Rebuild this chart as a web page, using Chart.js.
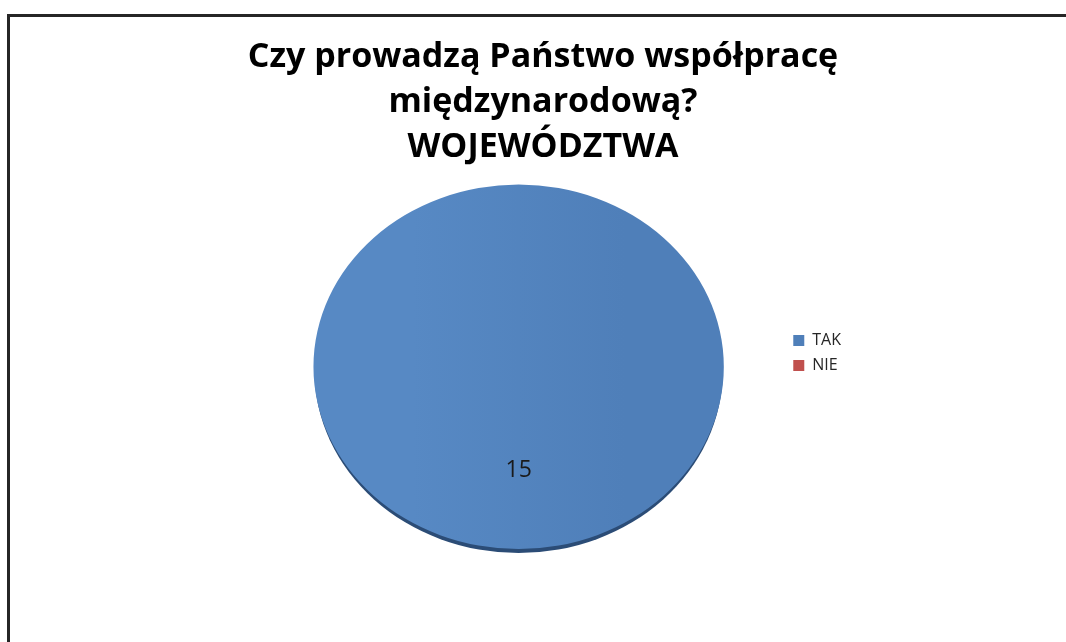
<!DOCTYPE html>
<html>
<head>
<meta charset="utf-8">
<script src="https://cdn.jsdelivr.net/npm/chart.js@4.4.1/dist/chart.umd.min.js"></script>
<style>
  html, body { margin: 0; padding: 0; background: #fff; overflow: hidden; }
  #wrap { position: relative; width: 1066px; height: 642px; }
  #frame { position: absolute; left: 7px; top: 14px; width: 1100px; height: 700px; border: 3px solid #262626; box-sizing: border-box; }
  canvas { position: absolute; left: 0; top: 0; }
</style>
</head>
<body>
<div id="wrap">
  <div id="frame"></div>
  <canvas id="chartPie" width="1066" height="642"></canvas>
</div>
<script>
  // ---- data ----
  const titleLines = ["Czy prowadzą Państwo współpracę", "międzynarodową?", "WOJEWÓDZTWA"];
  const categories = ["TAK", "NIE"];
  const values = [15, 0];
  const colors = ["#4f81bd", "#c0504d"];

  const FONT = "'Open Sans', 'DejaVu Sans', sans-serif";
  const SQUASH = 0.888;   // pie drawn as a slightly flattened ellipse

  // flatten the pie + dark bottom rim + value labels
  const pieLook = {
    id: "pieLook",
    afterLayout(chart) {
      // legend sits a little above the pie centre in the original
      chart.legend.top += 67;
      chart.legend.bottom += 67;
      // title is centred a bit left of the padded box
      chart.titleBlock.left -= 9;
      chart.titleBlock.right -= 9;
    },
    beforeDatasetsDraw(chart) {
      const ctx = chart.ctx;
      const arc = chart.getDatasetMeta(0).data[0];
      const cx = arc.x, cy = arc.y, r = arc.outerRadius;
      ctx.save();
      ctx.fillStyle = "#2b4c76";
      ctx.beginPath();
      ctx.ellipse(cx, cy + 4, r - 1, r * SQUASH, 0, 0, Math.PI * 2);
      ctx.fill();
      ctx.translate(0, cy);
      ctx.scale(1, SQUASH);
      ctx.translate(0, -cy);
    },
    afterDatasetsDraw(chart) {
      const ctx = chart.ctx;
      ctx.restore();
      const meta = chart.getDatasetMeta(0);
      ctx.save();
      ctx.font = "23px " + FONT;
      ctx.fillStyle = "#1a1a1a";
      ctx.textAlign = "center";
      ctx.textBaseline = "middle";
      meta.data.forEach((a, i) => {
        if (!values[i]) return;
        const mid = (a.startAngle + a.endAngle) / 2;
        const d = a.outerRadius * 0.57;
        ctx.fillText(String(values[i]), a.x + Math.cos(mid) * d, a.y + Math.sin(mid) * d * SQUASH);
      });
      ctx.restore();
    },
  };

  new Chart(document.getElementById("chartPie"), {
    type: "pie",
    data: {
      labels: categories,
      datasets: [{
        data: values,
        backgroundColor: (c) => {
          if (c.dataIndex !== 0) return colors[c.dataIndex];
          const area = c.chart.chartArea;
          if (!area) return colors[0];
          const g = c.chart.ctx.createLinearGradient(area.left, 0, area.right, 0);
          g.addColorStop(0.3, "#5789c4");
          g.addColorStop(0.7, "#4f7fb9");
          return g;
        },
        borderWidth: 0,
      }],
    },
    options: {
      responsive: false,
      animation: false,
      layout: { padding: { left: 253, right: 215, top: 0, bottom: 70 } },
      plugins: {
        title: {
          display: true,
          text: titleLines,
          color: "#000",
          font: { family: FONT, size: 34, weight: "bold", lineHeight: 1.32 },
          padding: { top: 35, bottom: -8 },
        },
        legend: {
          position: "right",
          labels: {
            boxWidth: 11, boxHeight: 11, padding: 9,
            color: "#262626",
            font: { family: FONT, size: 16 },
          },
        },
        tooltip: { enabled: false },
      },
    },
    plugins: [pieLook],
  });
</script>
</body>
</html>
